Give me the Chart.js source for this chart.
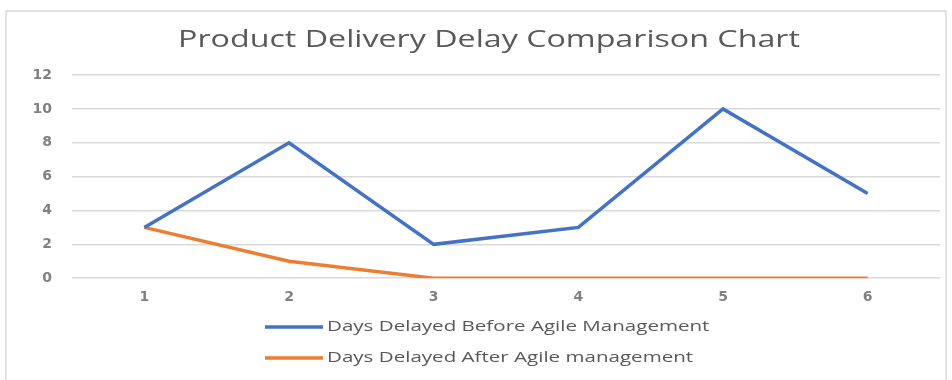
<!DOCTYPE html>
<html>
<head>
<meta charset="utf-8">
<script src="https://cdn.jsdelivr.net/npm/chart.js@4/dist/chart.umd.min.js"></script>
<style>
  html, body { margin: 0; padding: 0; background: #fff; }
  #wrap { position: relative; width: 952px; height: 380px; }
</style>
</head>
<body>
<div id="wrap"><canvas id="delayChart"></canvas></div>
<script>
const periods = ['1', '2', '3', '4', '5', '6'];
const daysBefore = [3, 8, 2, 3, 10, 5];
const daysAfter = [3, 1, 0, 0, 0, 0];
const seriesNames = ['Days Delayed Before Agile Management', 'Days Delayed After Agile management'];
const chartTitle = 'Product Delivery Delay Comparison Chart';
const yTicks = [0, 2, 4, 6, 8, 10, 12];

const TEXT = '#595959';
const FONT = "'Open Sans', 'Liberation Sans', sans-serif";
const TICK_FONT = { family: "'DejaVu Sans', sans-serif", size: 14, weight: 'bold' };

// draws text stretched horizontally around a left or centre anchor
function wideText(c, str, x, y, sx, align) {
    c.save();
    c.translate(x, y);
    c.scale(sx, 1);
    c.textAlign = align;
    c.fillText(str, 0, 0);
    c.restore();
}

// Frame, title and a stacked legend under the x axis
const framePlugin = {
    id: 'frameAndLegend',
    beforeDraw(chart) {
        const c = chart.ctx;
        c.save();
        c.fillStyle = '#ffffff';
        c.fillRect(0, 0, chart.width, chart.height);
        c.strokeStyle = '#d9d9d9';
        c.lineWidth = 1.5;
        c.strokeRect(6, 11, chart.width - 12, chart.height);
        c.restore();
    },
    afterDraw(chart) {
        const c = chart.ctx;
        c.save();
        c.textBaseline = 'middle';
        c.fillStyle = TEXT;
        c.font = '500 23px ' + FONT;
        wideText(c, chartTitle, 489, 40, 1.4, 'center');

        c.font = '500 15px ' + FONT;
        chart.data.datasets.forEach((ds, i) => {
            const y = 327 + i * 31;
            c.strokeStyle = ds.borderColor;
            c.lineWidth = 3.5;
            c.beginPath();
            c.moveTo(265, y);
            c.lineTo(323, y);
            c.stroke();
            c.fillStyle = TEXT;
            wideText(c, ds.label, 327, y, 1.37, 'left');
        });
        c.restore();
    }
};

new Chart(document.getElementById('delayChart'), {
    type: 'line',
    data: {
        labels: periods,
        datasets: [
            {
                label: seriesNames[0],
                data: daysBefore,
                borderColor: '#4472c4',
                borderWidth: 3.5,
                pointRadius: 0,
                tension: 0
            },
            {
                label: seriesNames[1],
                data: daysAfter,
                borderColor: '#ed7d31',
                borderWidth: 3.5,
                pointRadius: 0,
                tension: 0
            }
        ]
    },
    options: {
        responsive: true,
        maintainAspectRatio: false,
        animation: false,
        layout: {
            padding: { top: 75, right: 12, bottom: 63, left: 0 }
        },
        plugins: {
            legend: { display: false },
            tooltip: { enabled: false },
            title: { display: false }
        },
        scales: {
            x: {
                offset: true,
                grid: { display: false, drawTicks: false },
                border: { display: false },
                ticks: { color: '#808080', font: TICK_FONT, padding: 11 }
            },
            y: {
                min: 0,
                max: 12,
                afterBuildTicks: (axis) => { axis.ticks = yTicks.map(v => ({ value: v })); },
                afterFit: (axis) => { axis.width = 72; },
                grid: { color: '#d9d9d9', lineWidth: 1.5, drawTicks: false },
                border: { display: false },
                ticks: { color: '#808080', font: TICK_FONT, padding: 20 }
            }
        }
    },
    plugins: [framePlugin]
});
</script>
</body>
</html>
